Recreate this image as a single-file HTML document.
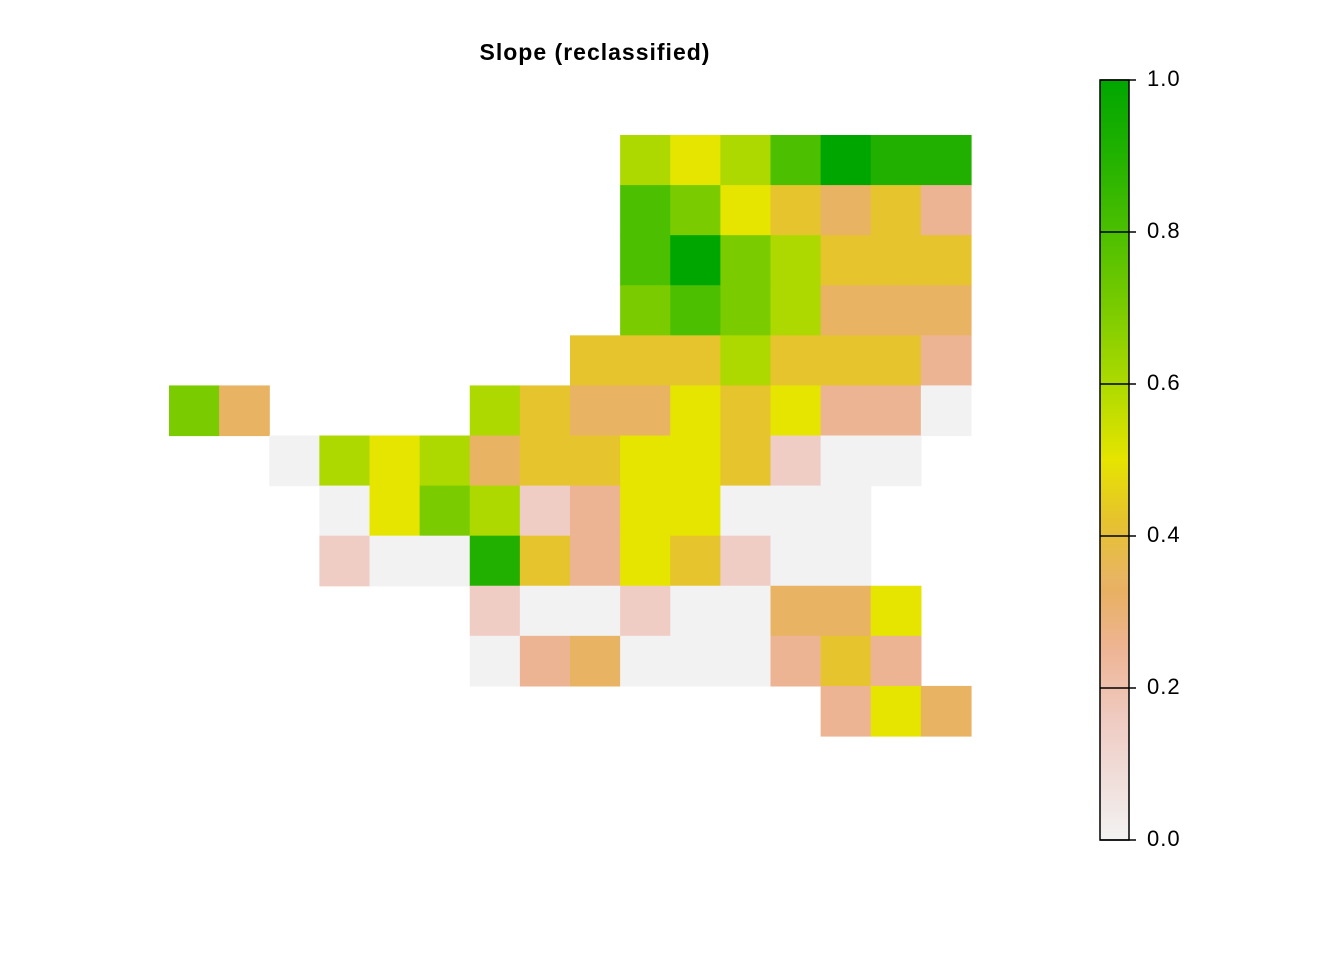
<!DOCTYPE html>
<html><head><meta charset="utf-8"><style>
body{margin:0;background:#fff;}
svg{display:block;font-family:"Liberation Sans",sans-serif;}
</style></head><body>
<svg id="chart" width="1344" height="960">
<defs><linearGradient id="lg" x1="0" y1="1" x2="0" y2="0">
<stop offset="0" stop-color="#F2F2F2"/><stop offset="0.15" stop-color="#EFCDC5"/>
<stop offset="0.25" stop-color="#EEB595"/><stop offset="0.33" stop-color="#E8B060"/>
<stop offset="0.34" stop-color="#E8B464"/><stop offset="0.42" stop-color="#E6C22E"/>
<stop offset="0.5" stop-color="#E6E400"/><stop offset="0.6" stop-color="#ADDA00"/>
<stop offset="0.7" stop-color="#7ACB00"/><stop offset="0.8" stop-color="#4CBF00"/>
<stop offset="0.9" stop-color="#22B200"/><stop offset="1" stop-color="#00A600"/>
</linearGradient></defs>
<text x="595" y="60" text-anchor="middle" font-weight="bold" font-size="23" letter-spacing="1">Slope (reclassified)</text>
<g id="cells"></g>
<rect x="1100" y="80" width="29" height="760" fill="url(#lg)" stroke="#000" stroke-width="1.5"/>
<g id="legend"></g>
</svg>
<script>
const gridRows = [
 [null,null,null,null,null,null,null,null,null,0.6,0.5,0.6,0.8,1.0,0.9,0.9],
 [null,null,null,null,null,null,null,null,null,0.8,0.7,0.5,0.4,0.35,0.4,0.25],
 [null,null,null,null,null,null,null,null,null,0.8,1.0,0.7,0.6,0.4,0.4,0.4],
 [null,null,null,null,null,null,null,null,null,0.7,0.8,0.7,0.6,0.35,0.35,0.35],
 [null,null,null,null,null,null,null,null,0.4,0.4,0.4,0.6,0.4,0.4,0.4,0.25],
 [0.7,0.35,null,null,null,null,0.6,0.4,0.35,0.35,0.5,0.4,0.5,0.25,0.25,0.05],
 [null,null,0.05,0.6,0.5,0.6,0.35,0.4,0.4,0.5,0.5,0.4,0.15,0.05,0.05,null],
 [null,null,null,0.05,0.5,0.7,0.6,0.15,0.25,0.5,0.5,0.05,0.05,0.05,null,null],
 [null,null,null,0.15,0.05,0.05,0.9,0.4,0.25,0.5,0.4,0.15,0.05,0.05,null,null],
 [null,null,null,null,null,null,0.15,0.05,0.05,0.15,0.05,0.05,0.35,0.35,0.5,null],
 [null,null,null,null,null,null,0.05,0.25,0.35,0.05,0.05,0.05,0.25,0.4,0.25,null],
 [null,null,null,null,null,null,null,null,null,null,null,null,null,0.25,0.5,0.35]
];
const classValues = [0.05,0.15,0.25,0.35,0.4,0.5,0.6,0.7,0.8,0.9,1.0];
const classColors = ["#F2F2F2","#EFCDC5","#EDB494","#E8B464","#E6C42E","#E5E500","#ADD900","#7ACC00","#4CC000","#22B000","#00A600"];
const tickValues = [0,0.2,0.4,0.6,0.8,1.0];
const tickLabels = ["0.0","0.2","0.4","0.6","0.8","1.0"];
const x0=169,y0=135,cw=(971-169)/16,ch=(736-135)/12;
const NS="http://www.w3.org/2000/svg";
function color(v){let best=0;for(let i=0;i<classValues.length;i++){if(Math.abs(classValues[i]-v)<Math.abs(classValues[best]-v))best=i;}return classColors[best];}
const cells=document.getElementById('cells');
gridRows.forEach((row,r)=>row.forEach((v,c)=>{
 if(v===null)return;
 const el=document.createElementNS(NS,'rect');
 el.setAttribute('x',x0+c*cw);el.setAttribute('y',y0+r*ch);
 el.setAttribute('width',cw+0.6);el.setAttribute('height',ch+0.6);
 el.setAttribute('fill',color(v));
 
 
 cells.appendChild(el);
}));
const lg=document.getElementById('legend');
const yScale=v=>840-v*760;
tickValues.forEach((v,i)=>{
 const y=yScale(v);
 const t=document.createElementNS(NS,'line');
 t.setAttribute('x1',1100);t.setAttribute('x2',1136);t.setAttribute('y1',y);t.setAttribute('y2',y);
 t.setAttribute('stroke','#000');t.setAttribute('stroke-width','1.5');
 
 
 lg.appendChild(t);
 const tx=document.createElementNS(NS,'text');
 tx.setAttribute('x',1147);tx.setAttribute('y',y+6);tx.setAttribute('font-size','22');
 tx.setAttribute('letter-spacing','1');
 tx.textContent=tickLabels[i];
 
 
 lg.appendChild(tx);
});
</script>
</body></html>
